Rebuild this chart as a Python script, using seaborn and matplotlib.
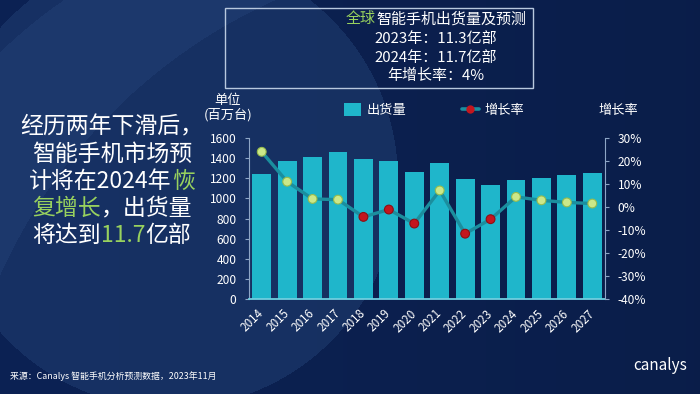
import numpy as np
import pandas as pd
import matplotlib
matplotlib.use("Agg")
import matplotlib.pyplot as plt
import seaborn as sns
from matplotlib.patches import Patch, Rectangle
from matplotlib.lines import Line2D
from matplotlib.font_manager import FontProperties, findfont, get_font

# ---------------- data ----------------
years = ["2014", "2015", "2016", "2017", "2018", "2019", "2020",
         "2021", "2022", "2023", "2024", "2025", "2026", "2027"]
shipments = [1240, 1375, 1415, 1460, 1395, 1370, 1265,
             1355, 1195, 1130, 1180, 1205, 1230, 1250]
growth = [24.0, 11.0, 3.5, 3.2, -4.3, -1.1, -7.2,
          7.2, -11.6, -5.3, 4.4, 2.9, 2.0, 1.5]
left_ticks = [0, 200, 400, 600, 800, 1000, 1200, 1400, 1600]
right_ticks = [-40, -30, -20, -10, 0, 10, 20, 30]
right_labels = [f"{v}%" for v in right_ticks]

box_lines = [[("全球", "g"), ("智能手机出货量及预测", "w")],
             [("2023年：11.3亿部", "w")],
             [("2024年：11.7亿部", "w")],
             [("年增长率：4%", "w")]]
side_lines = [[("经历两年下滑后，", "w")],
              [("智能手机市场预", "w")],
              [("计将在2024年", "w"), ("恢", "g")],
              [("复增长", "g"), ("，出货量", "w")],
              [("将达到", "w"), ("11.7", "g"), ("亿部", "w")]]
source_text = "来源：Canalys 智能手机分析预测数据，2023年11月"

# ---------------- style ----------------
sns.set_theme(style="white")
plt.rcParams['font.family'] = ['Noto Sans CJK SC', 'DejaVu Sans']

BAR = "#1fb6cb"
LINE = "#1b8e9e"
POS = "#cbe889"
POS_EDGE = "#97bb4e"
NEG = "#c4161e"
NEG_EDGE = "#8e0f14"
GREEN = "#98d15e"
WHITE = "#ffffff"
SPINE = "#8ea6c6"
colmap = {"w": WHITE, "g": GREEN}

W, H = 700, 394
DPI = 100
fig = plt.figure(figsize=(W / DPI, H / DPI), dpi=DPI)

# ---------------- background ----------------
bg = fig.add_axes([0, 0, 1, 1], zorder=-10)
bg.set_xlim(0, W)
bg.set_ylim(H, 0)
bg.axis("off")
yy, xx = np.mgrid[0:H, 0:W] + 0.5
dark = np.array([0x0c, 0x22, 0x54]) / 255
light = np.array([0x1c, 0x39, 0x6c]) / 255
t = np.clip(xx / W, 0, 1)[..., None]
img = dark * (0.88 + 0.12 * (1 - t)) * np.ones((H, W, 3))
inS = (xx - 330) ** 2 + (yy - 390) ** 2 < 472 ** 2
inC2 = (xx - 500) ** 2 + (yy - 500) ** 2 < 548 ** 2
band = inS & ~inC2
img[band] = light
inL = (xx - 170) ** 2 + (yy - 180) ** 2 < 228 ** 2
img[inL] = img[inL] * 0.35 + light * 0.65
bg.imshow(img, extent=(0, W, H, 0), aspect="auto", interpolation="bilinear")

renderer = fig.canvas.get_renderer()
cjk_font = get_font(findfont(FontProperties(family="Noto Sans CJK SC")))


def text_width(s, fs):
    a = bg.text(0, 0, s, fontsize=fs)
    w = a.get_window_extent(renderer).width
    a.remove()
    return w


def draw_line(segments, xc, y, fs):
    full = "".join(s for s, _ in segments)
    total = text_width(full, fs)
    x0 = xc - total / 2
    cjk_font.set_size(fs, DPI)
    xys = np.asarray(cjk_font.set_text(full, 0.0))
    idx = 0
    for s, c in segments:
        ox = xys[idx, 0] / 64.0
        bg.text(x0 + ox, y, s, color=colmap[c], fontsize=fs, ha="left",
                va="center")
        idx += len(s)


# top box
bg.add_patch(Rectangle((225, 8), 308, 80, fill=False, edgecolor="#b8c8de",
                       linewidth=1.0))
for seg, y in zip(box_lines, [19, 39, 58, 76]):
    draw_line(seg, 436, y, 10.8)

# left big text
for seg, y in zip(side_lines, [127, 154, 181, 208, 235]):
    draw_line(seg, 112, y, 16.5)

# footer
bg.text(10, 376, source_text, color=WHITE, fontsize=6.4, ha="left", va="center")
bg.text(660, 366, "canalys", color=WHITE, fontsize=11, ha="center", va="center")

# axis captions
bg.text(228, 100, "单位", color=WHITE, fontsize=9.5, ha="center", va="center")
bg.text(228, 115, "(百万台)", color=WHITE, fontsize=9.5, ha="center", va="center")
bg.text(618, 110, "增长率", color=WHITE, fontsize=9.5, ha="center", va="center")

# ---------------- chart ----------------
ax = fig.add_axes([249 / W, 1 - 299 / H, 356 / W, 161 / H])
ax.patch.set_alpha(0)
df = pd.DataFrame({"year": years, "shipments": shipments, "growth": growth})
sns.barplot(data=df, x="year", y="shipments", color=BAR, saturation=1,
            width=0.74, ax=ax, edgecolor="none", linewidth=0)
ax.set_ylim(0, 1600)
ax.set_yticks(left_ticks)
ax.set_xlim(-0.5, len(years) - 0.5)
ax.set_xlabel("")
ax.set_ylabel("")
for s in ["top", "right"]:
    ax.spines[s].set_visible(False)
ax.spines["left"].set_color(SPINE)
ax.spines["left"].set_linewidth(0.8)
ax.spines["bottom"].set_color("#6fcfe0")
ax.spines["bottom"].set_linewidth(1.3)
ax.tick_params(axis="y", colors=SPINE, labelcolor=WHITE, labelsize=8.6,
               length=3, width=0.8, pad=6, left=True, direction="out")
ax.tick_params(axis="x", colors=SPINE, labelcolor=WHITE, labelsize=8.4,
               length=0, pad=9)
for lab in ax.get_xticklabels():
    lab.set_rotation(45)
    lab.set_ha("right")
    lab.set_va("center")
    lab.set_rotation_mode("anchor")

ax2 = ax.twinx()
ax2.patch.set_alpha(0)
df["pos"] = np.arange(len(years))
df["sign"] = np.where(df["growth"] >= 0, "pos", "neg")
edge_cols = [POS_EDGE if g >= 0 else NEG_EDGE for g in growth]
sns.lineplot(data=df, x="pos", y="growth", color=LINE, linewidth=2.4,
             ax=ax2, legend=False)
sns.scatterplot(data=df, x="pos", y="growth", hue="sign",
                palette={"pos": POS, "neg": NEG}, s=40, linewidth=0.8,
                edgecolor=edge_cols, ax=ax2, legend=False, zorder=5)
ax2.set_xlim(-0.5, len(years) - 0.5)
ax2.set_ylim(-40, 30)
ax2.set_yticks(right_ticks)
ax2.set_yticklabels(right_labels)
ax2.set_xlabel("")
ax2.set_ylabel("")
for s in ["top", "left", "bottom"]:
    ax2.spines[s].set_visible(False)
ax2.spines["right"].set_color(SPINE)
ax2.spines["right"].set_linewidth(0.8)
ax2.tick_params(axis="y", colors=SPINE, labelcolor=WHITE, labelsize=8.6,
                length=3, width=0.8, pad=6, right=True, direction="out")

# legend
handles = [Patch(facecolor=BAR, edgecolor="none"),
           Line2D([0], [0], color=LINE, linewidth=2.6, marker="o",
                  markersize=6, markerfacecolor=NEG, markeredgewidth=0)]
leg = fig.legend(handles, ["出货量", "增长率"], ncol=2, frameon=False,
                 loc="center", bbox_to_anchor=(434 / W, 1 - 110 / H),
                 fontsize=9.5, handlelength=1.3, handleheight=1.1,
                 handletextpad=0.4, columnspacing=4.2, labelcolor=WHITE)

fig.savefig("out.png", dpi=DPI)
